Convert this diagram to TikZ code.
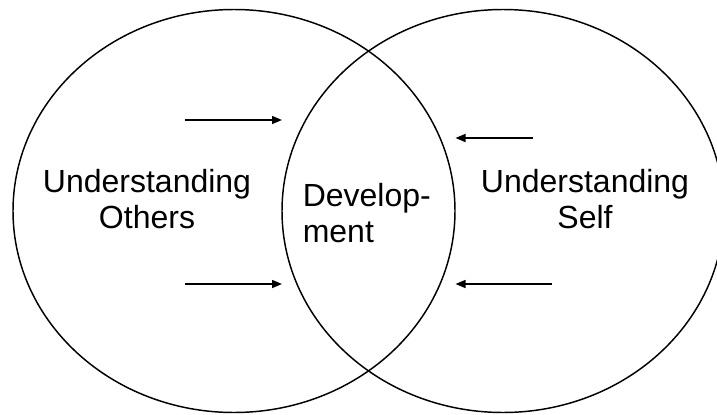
\documentclass[tikz,border=0pt]{standalone}
\usepackage{fontspec}
\setmainfont{Liberation Sans}
\usetikzlibrary{arrows.meta}

\tikzset{
  setline/.style={line width=1.1pt},
  pointer/.style={line width=1.1pt,-{Triangle[length=7.5pt,width=6pt]}},
  lbl/.style={font=\fontsize{24}{27}\selectfont,inner sep=0pt}
}

\begin{document}
\begin{tikzpicture}[x=0.75pt,y=0.75pt,yscale=-1,xscale=1]
\useasboundingbox (0,0) rectangle (717,414);

% the two sets
\draw [setline] (234,211) ellipse (221 and 201.5);
\draw [setline] (503,211) ellipse (221 and 201.5);

\node [lbl,align=center] (others) at (147,199.3) {Understanding\\Others};
\node [lbl,align=center] (self) at (585,199.3) {Understanding\\Self};
\node [lbl,align=left,anchor=west] (dev) at (302.5,213.5) {Develop-\\ment};

% arrows into the overlap
\coordinate (l1) at (185,120);  \coordinate (l1t) at (282,120);
\coordinate (l2) at (185,284);  \coordinate (l2t) at (282,284);
\coordinate (r1) at (533,138);  \coordinate (r1t) at (455.5,138);
\coordinate (r2) at (552,284);  \coordinate (r2t) at (455.5,284);

\draw [pointer] (l1) -- (l1t);
\draw [pointer] (l2) -- (l2t);
\draw [pointer] (r1) -- (r1t);
\draw [pointer] (r2) -- (r2t);
\end{tikzpicture}
\end{document}
